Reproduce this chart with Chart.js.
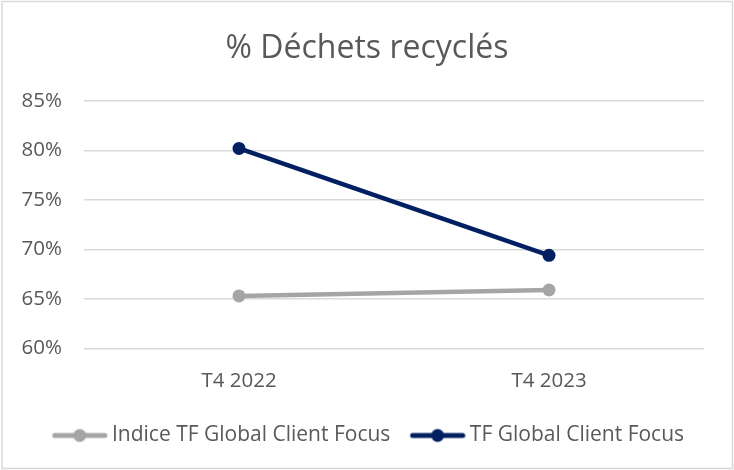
<!DOCTYPE html>
<html>
<head>
<meta charset="utf-8">
<script src="https://cdn.jsdelivr.net/npm/chart.js@4"></script>
<style>
  html, body { margin: 0; padding: 0; background: #fff; }
  #wrap { width: 734px; height: 470px; }
</style>
</head>
<body>
<div id="wrap"><canvas id="chart"></canvas></div>
<script>
// Chart data
const categories = ['T4 2022', 'T4 2023'];
const indiceValues = [65.3, 65.9];   // Indice TF Global Client Focus
const tfValues = [80.2, 69.4];       // TF Global Client Focus
const seriesNames = ['Indice TF Global Client Focus', 'TF Global Client Focus'];

const GRAY = '#a5a5a5';
const NAVY = '#022061';
const TEXT = '#595959';

const LEGEND_PAD = 17.5;
const LEGEND_BOX = 51.5;

// Legend marker: short line with a dot in the middle, sitting at the right of the box
function legendMarker(color) {
    const c = document.createElement('canvas');
    c.width = Math.round(LEGEND_BOX + 12);
    c.height = 16;
    const g = c.getContext('2d');
    const x0 = c.width - 56;
    g.strokeStyle = color;
    g.lineWidth = 5;
    g.lineCap = 'round';
    g.beginPath();
    g.moveTo(x0 + 3, 8);
    g.lineTo(x0 + 53, 8);
    g.stroke();
    g.fillStyle = color;
    g.beginPath();
    g.arc(x0 + 28, 8, 6.5, 0, Math.PI * 2);
    g.fill();
    return c;
}

// Outer chart border
const borderPlugin = {
    id: 'outerBorder',
    beforeDraw(chart) {
        const ctx = chart.ctx;
        ctx.save();
        ctx.fillStyle = '#fff';
        ctx.fillRect(0, 0, chart.width, chart.height);
        ctx.strokeStyle = '#d9d9d9';
        ctx.lineWidth = 1.5;
        ctx.strokeRect(2, 1.5, 730.5, 467);
        ctx.restore();
    }
};

const ctx = document.getElementById('chart').getContext('2d');
new Chart(ctx, {
    type: 'line',
    data: {
        labels: categories,
        datasets: [
            {
                label: seriesNames[0],
                data: indiceValues,
                borderColor: GRAY,
                backgroundColor: GRAY,
                borderWidth: 4.5,
                pointRadius: 6.5,
                pointHoverRadius: 6.5,
                pointBackgroundColor: GRAY,
                pointBorderWidth: 0,
                tension: 0
            },
            {
                label: seriesNames[1],
                data: tfValues,
                borderColor: NAVY,
                backgroundColor: NAVY,
                borderWidth: 4.5,
                pointRadius: 6.5,
                pointHoverRadius: 6.5,
                pointBackgroundColor: NAVY,
                pointBorderWidth: 0,
                tension: 0
            }
        ]
    },
    options: {
        responsive: true,
        maintainAspectRatio: false,
        animation: false,
        layout: {
            padding: { left: 16, right: 16, top: 0, bottom: 14 }
        },
        plugins: {
            title: {
                display: true,
                text: '% Déchets recyclés',
                color: TEXT,
                font: { family: 'Open Sans', size: 32, weight: 'normal' },
                padding: { top: 30, bottom: 32.5 }
            },
            legend: {
                position: 'bottom',
                labels: {
                    color: TEXT,
                    font: { family: 'Open Sans', size: 21 },
                    usePointStyle: true,
                    pointStyleWidth: LEGEND_BOX,
                    padding: LEGEND_PAD,
                    generateLabels(chart) {
                        return chart.data.datasets.map((ds, i) => ({
                            text: ds.label,
                            fontColor: TEXT,
                            pointStyle: legendMarker(ds.borderColor),
                            lineWidth: 0,
                            datasetIndex: i
                        }));
                    }
                }
            },
            tooltip: { enabled: false }
        },
        scales: {
            x: {
                offset: true,
                grid: { display: false },
                border: { display: false },
                afterFit(scale) { scale.height += 2.5; },
                ticks: {
                    color: TEXT,
                    font: { family: 'Open Sans', size: 20.5 },
                    padding: 12
                }
            },
            y: {
                min: 60,
                max: 85,
                border: { display: false },
                grid: { color: '#d9d9d9', lineWidth: 1.5, drawTicks: false },
                afterFit(scale) { scale.width = 68; },
                ticks: {
                    stepSize: 5,
                    color: TEXT,
                    font: { family: 'Open Sans', size: 20.5 },
                    padding: 22,
                    callback: v => v + '%'
                }
            },
            // empty right gutter so the plot ends where the reference does
            gutter: {
                position: 'right',
                grid: { display: false },
                border: { display: false },
                ticks: { display: false },
                afterFit(scale) { scale.width = 14; }
            }
        }
    },
    plugins: [borderPlugin]
});
</script>
</body>
</html>
